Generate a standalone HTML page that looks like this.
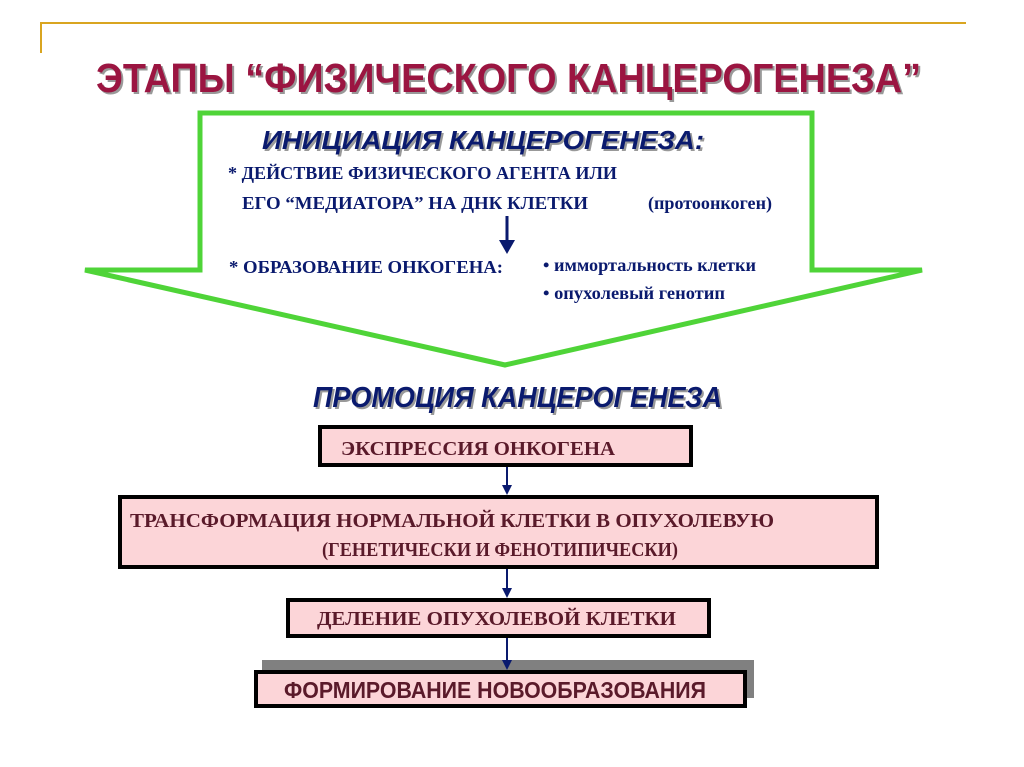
<!DOCTYPE html>
<html><head><meta charset="utf-8"><style>html,body{margin:0;padding:0;background:#fff}svg{display:block}</style></head>
<body>
<svg width="1024" height="767" viewBox="0 0 1024 767" xmlns="http://www.w3.org/2000/svg">
<line x1="40" y1="23" x2="966" y2="23" stroke="#d9a520" stroke-width="2"/>
<line x1="41" y1="23" x2="41" y2="53" stroke="#d9a520" stroke-width="2"/>
<g font-family="Liberation Sans, sans-serif" font-weight="bold" font-size="41">
<text x="98" y="94" fill="#999" textLength="825" lengthAdjust="spacingAndGlyphs">ЭТАПЫ “ФИЗИЧЕСКОГО  КАНЦЕРОГЕНЕЗА”</text>
<text x="96" y="92" fill="#9b1541" textLength="825" lengthAdjust="spacingAndGlyphs">ЭТАПЫ “ФИЗИЧЕСКОГО  КАНЦЕРОГЕНЕЗА”</text>
</g>
<polygon points="200,113 812,113 812,270 922,270 505,365 85,270 200,270" fill="#fff" stroke="#4fd438" stroke-width="5" stroke-linejoin="miter"/>
<g font-family="Liberation Sans, sans-serif" font-weight="bold" font-style="italic" font-size="26" fill="#0a1a6e">
<text x="264" y="151" fill="#999" textLength="442" lengthAdjust="spacingAndGlyphs">ИНИЦИАЦИЯ   КАНЦЕРОГЕНЕЗА:</text>
<text x="262" y="149" textLength="442" lengthAdjust="spacingAndGlyphs">ИНИЦИАЦИЯ   КАНЦЕРОГЕНЕЗА:</text>
<text x="315" y="409" fill="#999" font-size="29" textLength="409" lengthAdjust="spacingAndGlyphs">ПРОМОЦИЯ   КАНЦЕРОГЕНЕЗА</text>
<text x="313" y="407" font-size="29" textLength="409" lengthAdjust="spacingAndGlyphs">ПРОМОЦИЯ   КАНЦЕРОГЕНЕЗА</text>
</g>
<g font-family="Liberation Serif, serif" font-weight="bold" font-size="18" fill="#0a1a6e">
<text x="228" y="179" textLength="389" lengthAdjust="spacingAndGlyphs">* ДЕЙСТВИЕ ФИЗИЧЕСКОГО АГЕНТА ИЛИ</text>
<text x="242" y="209" textLength="346" lengthAdjust="spacingAndGlyphs">ЕГО “МЕДИАТОРА” НА  ДНК  КЛЕТКИ</text>
<text x="648" y="209" textLength="124" lengthAdjust="spacingAndGlyphs">(протоонкоген)</text>
<text x="229" y="273" textLength="274" lengthAdjust="spacingAndGlyphs">*  ОБРАЗОВАНИЕ ОНКОГЕНА:</text>
<text x="543" y="271" textLength="213" lengthAdjust="spacingAndGlyphs">• иммортальность клетки</text>
<text x="543" y="299" textLength="182" lengthAdjust="spacingAndGlyphs">• опухолевый генотип</text>
</g>
<line x1="507" y1="216" x2="507" y2="242" stroke="#0a1a6e" stroke-width="3"/>
<polygon points="499,240 515,240 507,254" fill="#0a1a6e"/>
<rect x="262" y="660" width="492" height="38" fill="#808080"/>
<g stroke="#0a1a6e" stroke-width="2" fill="#0a1a6e">
<line x1="507" y1="466" x2="507" y2="488"/><polygon points="502,485 512,485 507,495" stroke="none"/>
<line x1="507" y1="568" x2="507" y2="591"/><polygon points="502,588 512,588 507,598" stroke="none"/>
<line x1="507" y1="637" x2="507" y2="663"/><polygon points="502,660 512,660 507,670" stroke="none"/>
</g>
<g fill="#fcd5d8" stroke="#000" stroke-width="4">
<rect x="320" y="427" width="371" height="38"/>
<rect x="120" y="497" width="757" height="70"/>
<rect x="288" y="600" width="421" height="36"/>
<rect x="256" y="672" width="489" height="34"/>
</g>
<g font-family="Liberation Serif, serif" font-weight="bold" font-size="20" fill="#5a1a2a">
<text x="341" y="455" textLength="274" lengthAdjust="spacingAndGlyphs">ЭКСПРЕССИЯ ОНКОГЕНА</text>
<text x="130" y="527" textLength="644" lengthAdjust="spacingAndGlyphs">ТРАНСФОРМАЦИЯ НОРМАЛЬНОЙ КЛЕТКИ В ОПУХОЛЕВУЮ</text>
<text x="322" y="556" textLength="356" lengthAdjust="spacingAndGlyphs">(ГЕНЕТИЧЕСКИ И ФЕНОТИПИЧЕСКИ)</text>
<text x="317" y="625" textLength="359" lengthAdjust="spacingAndGlyphs">ДЕЛЕНИЕ ОПУХОЛЕВОЙ КЛЕТКИ</text>
</g>
<text x="284" y="698" font-family="Liberation Sans, sans-serif" font-weight="bold" font-size="23" fill="#5a1a2a" textLength="422" lengthAdjust="spacingAndGlyphs">ФОРМИРОВАНИЕ  НОВООБРАЗОВАНИЯ</text>
</svg>
</body></html>
